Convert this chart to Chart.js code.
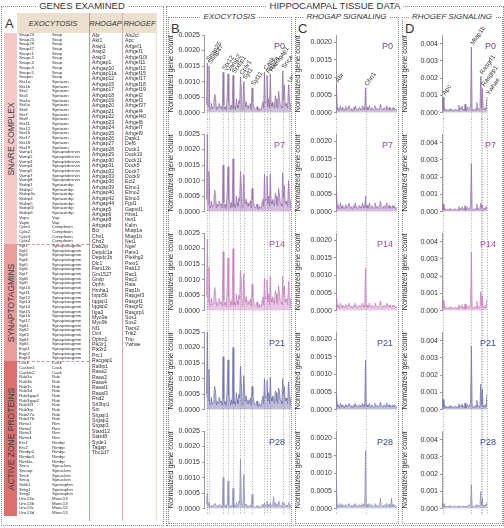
<!DOCTYPE html>
<html><head><meta charset="utf-8">
<script src="https://cdn.jsdelivr.net/npm/chart.js@4.4.1/dist/chart.umd.min.js"></script>
<style>
body{margin:0;width:504px;height:528px;position:relative;background:#fff;font-family:"Liberation Sans",Arial,sans-serif;color:#333;overflow:hidden}
.box{position:absolute;border:1px dotted #8c8c8c;box-sizing:border-box}
.hdr{position:absolute;font-size:9.5px;background:#fff;padding:0 3px;white-space:nowrap;transform:translateX(-50%);line-height:10px}
.sub{position:absolute;font-size:8px;font-style:italic;background:#fff;padding:0 3px;white-space:nowrap;transform:translateX(-50%);line-height:9px}
.letter{position:absolute;font-size:13px;line-height:13px}
.genes{position:absolute;white-space:pre;color:#2e2e2e;will-change:transform}
.cat{position:absolute;left:4px;width:13px}
.cat span{position:absolute;left:50%;top:50%;transform:translate(-50%,-50%) rotate(-90deg);font-size:8.5px;white-space:nowrap;color:#3a3a3a}
canvas{position:absolute}
</style></head><body>
<script>
// ---------- genes examined ----------
const EXO_GENES = ['Snap23','Snap25','Snap29','Snap47','Snapc1','Snapc2','Snapc3','Snapc4','Snapc5','Snapin',
  'Stx1a','Stx1b','Stx2','Stx3','Stx4a','Stx5a','Stx6','Stx7','Stx8','Stx11','Stx12','Stx16','Stx17','Stx18','Stx19',
  'Vamp1','Vamp2','Vamp3','Vamp4','Vamp5','Vamp7','Vamp8','Stxbp1','Stxbp2','Stxbp3a','Stxbp4','Stxbp5','Stxbp5l','Stxbp6',
  'Vapa','Vapb','Cplx1','Cplx2','Cplx3','Cplx4',
  'Syt1','Syt2','Syt3','Syt4','Syt5','Syt6','Syt7','Syt8','Syt9','Syt10','Syt11','Syt12','Syt13','Syt14','Syt15','Syt16','Syt17',
  'Sytl1','Sytl2','Sytl3','Sytl4','Sytl5','Esyt1','Esyt2','Esyt3',
  'Cask','Caskin1','Caskin2','Rab3a','Rab3b','Rab3c','Rab3d','Rab3gap1','Rab3gap2','Rab3il1','Rab3ip','Rab27a','Rab27b',
  'Rims1','Rims2','Rims3','Rims4','Erc1','Erc2','Rimbp2','Rimbp3','Rimkla','Snca','Sncaip','Sncb','Sncg',
  'Sntb1','Sntg1','Sntg2','Unc13a','Unc13b','Unc13c','Unc13d'];
const EXO_FAMILY_RUNS = [['Snap',10],['Syntaxin',15],['Synaptobrevin',7],['Syntaxinbp',7],['Vap',2],['Complexin',4],
  ['Synaptotagmin',25],['Cask',3],['Rab',10],['Rim',4],['Rimbp',5],['Synuclein',4],['Syntrophin',3],['Munc13',4]];
const CATEGORIES = [['SNARE COMPLEX',45,'#f3c9c9'],['SYNAPTOTAGMINS',25,'#e99d9d'],['ACTIVE ZONE PROTEINS',33,'#db7070']];

const RHOGAP_GENES = ['Abr','Akt1','Arap1','Arap2','Arap3','Arhgap1','Arhgap10','Arhgap11a','Arhgap12','Arhgap15',
  'Arhgap17','Arhgap18','Arhgap19','Arhgap20','Arhgap21','Arhgap22','Arhgap23','Arhgap24','Arhgap25','Arhgap26',
  'Arhgap27','Arhgap28','Arhgap29','Arhgap30','Arhgap31','Arhgap32','Arhgap33','Arhgap36','Arhgap39','Arhgap40',
  'Arhgap42','Arhgap44','Arhgap5','Arhgap6','Arhgap8','Arhgap9','Bcr','Chn1','Chn2','Dab2ip',
  'Depdc1a','Depdc1b','Dlc1','Fam13b','Gm1527','Gmip','Ophn','Hmha1','Inpp5b','Iqgap1',
  'Iqgap2','Itga3','Myo9a','Myo9b','Nf1','Ocrl','Ophn1','Pik3r1','Pik3r2','Prc1',
  'Racgap1','Ralbp1','Rasa2','Rasa3','Rasa4','Rasal1','Rasal3','Rnd2','Sh3bp1','Src',
  'Srgap1','Srgap2','Srgap3','Stard13','Stard8','Syde1','Tagap','Tbc1d7'];
const RHOGEF_GENES = ['Als2cl','Apc','Arfgef1','Arhgef1','Arhgef10l','Arhgef11','Arhgef12','Arhgef15','Arhgef17','Arhgef18',
  'Arhgef19','Arhgef2','Arhgef3','Arhgef37','Arhgef4','Arhgef40','Arhgef6','Arhgef7','Arhgef9','Dapk1',
  'Def6','Dock1','Dock10','Dock11','Dock5','Dock7','Dock9','Ect2','Elmo1','Elmo2',
  'Elmo3','Fgd1','Gapvd1','Hnis1','Itsn1','Kalrn','Mtap1a','Mtap1b','Net1','Ngef',
  'Pare1','Plekhg2','Prex1','Rab12','Rac1','Rac3','Rala','Rap1b','Rapgef3','Rasgrf1',
  'Rasgrf2','Rasgrp1','Sos1','Sos2','Tiam2','Trik2','Trio','Ywhae'];

// ---------- normalized gene counts, in units of 1e-5 ----------
const UNIT = 1e-5;
const AGES = ['P0','P7','P14','P21','P28'];

const EXO_P0 = [25,160,20,150,15,10,30,12,18,40, 60,45,10,20,15,30,25,15,20,10,
  130,25,12,20,8,60,125,35,30,10, 25,12,120,15,20,10,45,25,15,40, 30,115,80,10,20,100,45,20,35,15,
  25,15,20,30,10,80,35,20,15,10, 12,20,8,6,15,10,8,25,35,15, 130,30,35,120,20,45,15,125,30,20,
  35,25,15,55,45,20,15,70,50,25, 20,15,135,40,90,20,30,25,15,90, 40,30,10];
const EXO_P7 = [40,250,25,130,20,12,35,15,20,45, 70,50,12,25,18,35,30,20,25,12,
  150,30,15,25,10,70,145,40,35,12, 30,15,170,18,25,12,50,30,18,45, 35,130,90,12,25,120,50,25,40,18,
  30,18,25,35,12,75,40,25,18,12, 15,25,10,8,18,12,10,30,40,18, 120,35,40,115,25,50,18,120,35,25,
  40,30,18,60,50,25,18,75,55,30, 25,18,125,45,85,25,35,30,18,100, 45,35,12];
const EXO_P14 = [45,230,30,140,22,15,40,18,22,50, 75,55,15,28,20,40,35,22,28,15,
  190,35,18,28,12,75,170,45,38,15, 32,18,200,20,28,15,55,32,20,50, 38,130,95,15,28,120,55,28,45,20,
  32,20,28,38,15,85,45,28,20,15, 18,28,12,10,20,15,12,32,45,20, 105,38,42,100,28,55,20,110,38,28,
  45,32,20,65,55,28,20,80,60,32, 28,20,110,50,80,28,38,32,20,95, 48,38,15];
const EXO_P21 = [50,250,30,130,22,15,40,18,22,50, 75,55,15,28,20,40,35,22,28,15,
  170,35,18,28,12,75,160,45,38,15, 32,18,200,20,28,15,55,32,20,50, 38,140,90,15,28,110,55,28,45,20,
  32,20,28,38,15,75,45,28,20,15, 18,28,12,10,20,15,12,32,45,20, 100,38,42,95,28,55,20,105,38,28,
  45,32,20,60,55,28,20,70,60,32, 28,20,100,50,75,28,38,32,20,90, 48,38,15];
const EXO_P28 = [15,50,10,20,8,6,12,5,10,15, 18,12,6,10,5,12,14,8,10,4,
  100,10,6,12,5,18,90,14,12,5, 10,6,66,6,12,5,20,10,8,25, 18,160,30,6,10,110,20,10,15,6,
  10,6,8,12,5,46,15,8,6,4, 6,10,5,4,8,6,5,12,15,6, 20,8,10,25,8,15,6,18,10,8,
  12,40,6,20,15,8,6,25,20,10, 8,6,22,15,18,8,12,10,6,20, 15,12,4];

const RHOGAP_P0 = [80,15,8,10,6,20,12,8,15,10, 6,12,18,8,10,15,20,10,8,12, 6,10,15,8,20,12,10,6,8,15,
  10,12,8,20,15,10,8,70,10,15, 8,12,20,10,8,15,12,10,8,20, 15,10,12,8,10,15,25,12,10,8,
  12,15,10,8,20,12,10,15,8,12, 10,8,15,10,12,8,10,6];
const RHOGAP_P7 = [60,20,10,12,8,25,15,10,18,12, 8,15,20,10,12,18,25,12,10,15, 8,12,18,10,25,15,12,8,10,18,
  12,15,10,25,18,12,10,45,12,18, 10,15,25,12,10,18,15,12,10,25, 18,12,15,10,12,18,30,15,12,10,
  15,18,12,10,25,15,12,18,10,15, 12,10,18,12,15,10,12,8];
const RHOGAP_P14 = [50,18,10,12,8,22,14,10,16,12, 8,14,18,10,12,16,22,12,10,14, 8,12,16,10,22,14,12,8,10,16,
  12,14,10,22,16,12,10,120,12,16, 10,14,22,12,10,16,14,12,10,22, 16,12,14,10,12,16,28,14,12,10,
  14,16,12,10,22,14,12,16,10,14, 12,10,16,12,14,10,12,8];
const RHOGAP_P21 = [45,15,8,10,6,18,12,8,14,10, 6,12,15,8,10,14,18,10,8,12, 6,10,14,8,18,12,10,6,8,14,
  10,12,8,18,14,10,8,140,10,14, 8,12,18,10,8,14,12,10,8,18, 14,10,12,8,10,14,22,12,10,8,
  12,14,10,8,18,12,10,14,8,12, 10,8,14,10,12,8,10,6];
const RHOGAP_P28 = [80,12,6,8,5,15,10,6,12,8, 5,10,12,6,8,12,15,8,6,10, 5,8,12,6,15,10,8,5,6,12,
  8,10,6,15,12,8,6,165,8,12, 6,10,15,8,6,12,10,8,6,15, 12,8,10,6,8,12,30,10,8,6,
  10,12,8,6,15,10,8,12,6,10, 30,6,12,8,10,6,8,5];

const RHOGEF_P0 = [20,90,15,25,10,20,15,12,18,10, 25,15,20,12,10,18,22,15,12,20, 10,45,15,30,20,40,15,22,12,50,
  10,15,35,25,18,30,40,380,20,15, 12,18,25,15,60,20,25,15,20,210, 30,140,20,25,15,30,20,90];
const RHOGEF_P7 = [15,45,12,20,8,15,12,10,15,8, 20,12,15,10,8,15,18,12,10,15, 8,30,12,20,15,30,12,18,10,35,
  8,12,25,20,15,25,30,280,15,12, 10,15,20,12,45,15,20,12,15,50, 25,40,15,20,12,25,15,35];
const RHOGEF_P14 = [20,60,15,25,10,20,15,12,18,10, 25,15,20,12,10,18,22,15,12,20, 10,35,15,25,20,35,15,22,12,40,
  10,15,30,25,18,30,40,340,20,15, 12,18,25,15,55,20,25,15,20,110, 30,90,20,25,15,30,20,70];
const RHOGEF_P21 = [20,60,15,25,10,20,15,12,18,10, 25,15,20,12,10,18,22,15,12,20, 10,35,15,25,20,35,15,22,12,40,
  10,15,30,25,18,30,40,370,20,15, 12,18,25,15,55,20,25,15,20,150, 30,120,20,25,15,30,20,90];
const RHOGEF_P28 = [15,30,12,20,8,15,12,10,15,8, 20,12,15,10,8,15,18,12,10,15, 8,20,12,10,15,15,12,18,10,15,
  8,12,15,20,15,25,30,140,15,12, 10,15,20,12,25,15,20,12,15,100, 25,60,15,20,12,25,15,40];

// genes marked with dotted lines (and named in the P0 row)
const EXO_MARKS = ['Snap25','Snap47','Stx12','Vamp2','Stxbp1','Cplx1','Syt1','Syt11','Cask','Rab3a','Rab3gap1','Snca','Unc13a'];
const RHOGAP_MARKS = ['Abr','Chn1'];
const RHOGEF_MARKS = ['Apc','Mtap1b','Rasgrf1','Rasgrp1','Ywhae'];

// ---------- left panel ----------
function el(tag, cls, css, html) {
  const d = document.createElement(tag);
  if (cls) d.className = cls;
  Object.assign(d.style, css);
  if (html !== undefined) d.innerHTML = html;
  document.body.appendChild(d);
  return d;
}
el('div', 'box', {left:'1px', top:'6px', width:'163px', height:'520px'});
el('div', 'box', {left:'166px', top:'6px', width:'338px', height:'520px'});
el('div', 'hdr', {left:'82px', top:'1px'}, 'GENES EXAMINED');
el('div', 'hdr', {left:'335px', top:'1px'}, 'HIPPOCAMPAL TISSUE DATA');
el('div', '', {position:'absolute', left:'17px', top:'13px', width:'140px', height:'20px', background:'#ebe0cf'});
el('div', '', {position:'absolute', left:'17px', top:'33px', width:'140px', height:'488px', borderRight:'1px solid #efe3c4', boxSizing:'border-box'});
el('div', '', {position:'absolute', left:'89px', top:'13px', width:'0', height:'508px', borderLeft:'1px solid #d98a95'});
el('div', '', {position:'absolute', left:'122px', top:'13px', width:'0', height:'508px', borderLeft:'1px solid #dfa9b1'});
el('div', '', {position:'absolute', left:'17px', top:'19px', width:'72px', textAlign:'center', fontSize:'7.5px', fontStyle:'italic'}, 'EXOCYTOSIS');
el('div', '', {position:'absolute', left:'89px', top:'19px', width:'33px', textAlign:'center', fontSize:'7.5px', fontStyle:'italic'}, 'RHOGAP');
el('div', '', {position:'absolute', left:'122px', top:'19px', width:'35px', textAlign:'center', fontSize:'7.5px', fontStyle:'italic'}, 'RHOGEF');
el('div', 'letter', {left:'5px', top:'17px'}, 'A');

const EXO_ROW = 4.69, GAP_ROW = 5.42, LIST_TOP = 33;
let y0 = LIST_TOP;
CATEGORIES.forEach(([name, n, col], k) => {
  const h = n * EXO_ROW;
  el('div', 'cat', {top: y0 + 'px', height: h + 'px', background: col}, '<span>' + name + '</span>');
  if (k > 0) el('div', '', {position:'absolute', left:'17px', top: y0 + 'px', width:'72px', borderTop:'1px dashed #e08c9a'});
  y0 += h;
});
const families = [];
EXO_FAMILY_RUNS.forEach(([f, n]) => { for (let i = 0; i < n; i++) families.push(f); });
const lstCss = (x, lh) => ({left: x + 'px', top: LIST_TOP + 'px', fontSize: (lh - 0.3) + 'px', lineHeight: lh + 'px'});
el('div', 'genes', lstCss(19, EXO_ROW), EXO_GENES.join('\n'));
el('div', 'genes', lstCss(52, EXO_ROW), families.join('\n'));
el('div', 'genes', lstCss(92, GAP_ROW), RHOGAP_GENES.join('\n'));
el('div', 'genes', lstCss(125, GAP_ROW), RHOGEF_GENES.join('\n'));

// ---------- right panel ----------
const COLS = [
  {key:'B', title:'EXOCYTOSIS', genes:EXO_GENES, marks:EXO_MARKS, left:166, width:127, axisW:38, padR:2, xLead:3, labelDx:-6,
   max:0.0025, step:0.0005, dec:4, series:[EXO_P0, EXO_P7, EXO_P14, EXO_P21, EXO_P28]},
  {key:'C', title:'RHOGAP SIGNALING', genes:RHOGAP_GENES, marks:RHOGAP_MARKS, left:293, width:107, axisW:43, padR:3, xLead:0.5, labelDx:-4,
   max:0.0022, step:0.0005, dec:4, series:[RHOGAP_P0, RHOGAP_P7, RHOGAP_P14, RHOGAP_P21, RHOGAP_P28]},
  {key:'D', title:'RHOGEF SIGNALING', genes:RHOGEF_GENES, marks:RHOGEF_MARKS, left:400, width:104, axisW:42, padR:17, xLead:0.5, labelDx:9,
   max:0.0045, step:0.001, dec:3, series:[RHOGEF_P0, RHOGEF_P7, RHOGEF_P14, RHOGEF_P21, RHOGEF_P28]}
];
const AGE_STYLE = [
  {line:'#8d6d9e', fill:'rgba(150,118,172,0.45)', text:'#6e3f82'},
  {line:'#9468a8', fill:'rgba(158,110,182,0.45)', text:'#8a4c9f'},
  {line:'#c27ab9', fill:'rgba(208,132,198,0.45)', text:'#ae48a3'},
  {line:'#6c6ca6', fill:'rgba(110,110,172,0.45)', text:'#3b4a9b'},
  {line:'#8a8ab2', fill:'rgba(140,140,184,0.45)', text:'#3d4a86'}
];
const ROW_TOP = 20, ROW_H = 99;

COLS.forEach(c => {
  el('div', 'box', {left: (c.left + 2) + 'px', top:'17px', width: (c.width - 3) + 'px', height:'507px'});
  el('div', 'sub', {left: (c.left + c.width / 2) + 'px', top:'12px'}, c.title);
  el('div', 'letter', {left: (c.left + 5) + 'px', top:'22px'}, c.key);
  const markIdx = c.marks.map(g => c.genes.indexOf(g));
  c.series.forEach((vals, r) => {
    const cv = document.createElement('canvas');
    cv.width = c.width; cv.height = ROW_H;
    cv.style.left = c.left + 'px'; cv.style.top = (ROW_TOP + r * ROW_H) + 'px';
    document.body.appendChild(cv);
    const st = AGE_STYLE[r];
    new Chart(cv, {
      type: 'line',
      data: { datasets: [{ data: vals.map((v, i) => ({ x: i, y: v * UNIT })), borderColor: st.line, backgroundColor: st.fill,
        borderWidth: 0.7, pointRadius: 0, fill: 'origin', tension: 0 }] },
      options: {
        responsive: false, animation: false, devicePixelRatio: 1,
        layout: { padding: { top: 15, right: c.padR, bottom: 0, left: 0 } },
        plugins: { legend: { display: false }, tooltip: { enabled: false } },
        scales: {
          x: { type: 'linear', display: false, min: -c.xLead, max: c.genes.length - 1 },
          y: { min: 0, max: c.max,
            afterFit: s => { s.width = c.axisW; },
            afterBuildTicks: s => { s.ticks = s.ticks.filter(t => Math.abs(t.value / c.step - Math.round(t.value / c.step)) < 1e-6); },
            ticks: { stepSize: c.step, padding: 2, color: '#333', font: { size: 7, family: 'Liberation Sans' },
              callback: v => v.toFixed(c.dec) },
            grid: { drawOnChartArea: false, drawTicks: true, tickLength: 2, color: '#9a9a9a' },
            border: { display: true, color: '#9a9a9a', width: 1 },
            title: { display: true, text: 'Normalized gene count', color: '#333', padding: 0, font: { size: 7.5, family: 'Liberation Sans' } }
          }
        }
      },
      plugins: [{
        id: 'marks',
        beforeDatasetsDraw(ch) {
          const ctx = ch.ctx, xs = ch.scales.x, pts = ch.getDatasetMeta(0).data;
          ctx.save();
          ctx.strokeStyle = '#8a8a8a'; ctx.lineWidth = 0.7; ctx.setLineDash([1, 1.6]);
          markIdx.forEach(i => {
            const x = Math.round(xs.getPixelForValue(i)) + 0.5;
            const yTop = r === 0 ? pts[i].y : 0;
            ctx.beginPath(); ctx.moveTo(x, yTop); ctx.lineTo(x, ch.height); ctx.stroke();
          });
          ctx.restore();
        },
        afterDatasetsDraw(ch) {
          const ctx = ch.ctx, a = ch.chartArea, pts = ch.getDatasetMeta(0).data;
          ctx.save();
          ctx.fillStyle = st.text; ctx.font = '9px "Liberation Sans"'; ctx.textAlign = 'right'; ctx.textBaseline = 'middle';
          ctx.fillText(AGES[r], a.right + c.labelDx, a.top + 12);
          if (r === 0) {
            ctx.fillStyle = '#333'; ctx.font = '6.3px "Liberation Sans"'; ctx.textAlign = 'left';
            markIdx.forEach(i => {
              ctx.save(); ctx.translate(pts[i].x, pts[i].y - 2); ctx.rotate(-55 * Math.PI / 180);
              ctx.fillText(c.genes[i], 1, 0); ctx.restore();
            });
          }
          ctx.restore();
        }
      }]
    });
  });
});
</script>
</body></html>
